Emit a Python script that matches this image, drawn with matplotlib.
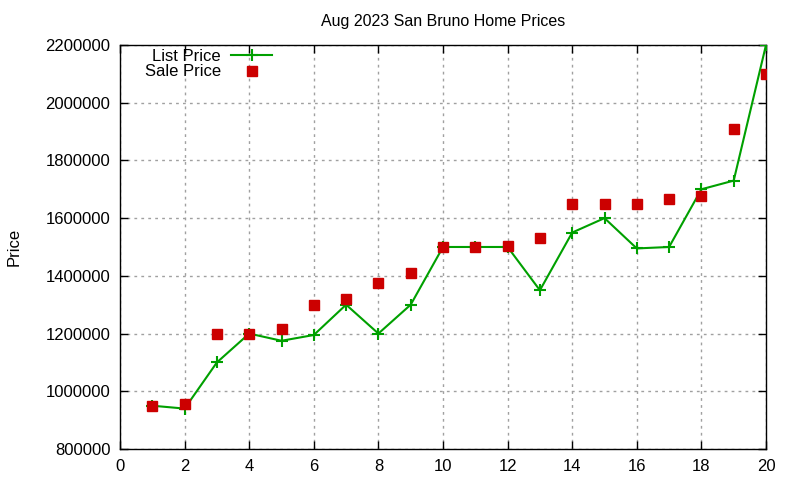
import matplotlib
matplotlib.use('Agg')
import matplotlib.pyplot as plt

plt.rcParams['font.family'] = ['Liberation Sans', 'DejaVu Sans']
plt.rcParams['font.size'] = 12

homes = list(range(1, 21))
list_price = [950000, 940000, 1100000, 1200000, 1175000, 1195000, 1300000, 1200000, 1300000, 1500000,
              1500000, 1500000, 1350000, 1550000, 1600000, 1495000, 1500000, 1700000, 1730000, 2200000]
sale_price = [950000, 955000, 1200000, 1200000, 1215000, 1300000, 1320000, 1375000, 1410000, 1500000,
              1500000, 1505000, 1530000, 1650000, 1650000, 1650000, 1665000, 1677000, 1910000, 2100000]

fig = plt.figure(figsize=(8, 4.8), dpi=100)
ax = fig.add_axes([0.15, 0.0646, 0.8075, 0.8417])

ax.plot(homes, list_price, '-', color='#00a000', lw=1.5, marker='+', ms=8, mew=1.5,
        label='List Price', zorder=3)
ax.plot(homes, sale_price, 's', color='#cc0000', ms=6.5, ls='none',
        label='Sale Price', zorder=4)

ax.set_xlim(0, 20)
ax.set_ylim(800000, 2200000)
ax.set_xticks(range(0, 21, 2))
ax.set_yticks(range(800000, 2200001, 200000))
ax.ticklabel_format(axis='y', style='plain', useOffset=False)
ax.tick_params(direction='in', top=True, right=True, length=6, width=1, pad=7)
ax.grid(True, color='#a0a0a0', ls=(0, (2, 3)), lw=1)
for s in ax.spines.values():
    s.set_linewidth(1)

ax.set_title('Aug 2023 San Bruno Home Prices', fontsize=11.5, pad=14)
ax.set_ylabel('Price')
ax.yaxis.set_label_coords(-0.152, 0.5)

ax.legend(loc='upper left', bbox_to_anchor=(0.02, 1.02), frameon=False, markerfirst=False,
          handlelength=2.5, handletextpad=0.6, labelspacing=0.05, borderaxespad=0.3)

fig.savefig('out.png', dpi=100)
